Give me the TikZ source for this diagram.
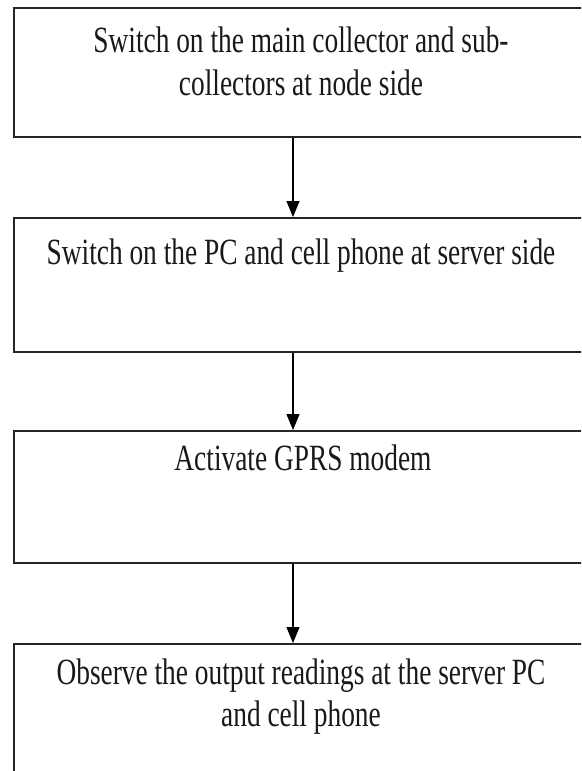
\documentclass[tikz,border=0pt]{standalone}
\usepackage{fontspec}
\setmainfont[FakeStretch=0.74]{Liberation Serif}
\usetikzlibrary{arrows.meta}
\begin{document}
\begin{tikzpicture}[x=1pt,y=-1pt,
  box/.style={draw=black!85,line width=1.6pt,rectangle,inner sep=0pt,anchor=north west},
  txt/.style={anchor=base,inner sep=0pt,font=\fontsize{37}{43}\selectfont,align=center,text=black!90},
  arr/.style={draw=black,line width=1.1pt,-{Triangle[width=13pt,length=16pt]}}]
\useasboundingbox (0,0) rectangle (581,771);
\clip (0,0) rectangle (581,771);
\fill[white] (0,0) rectangle (581,771);
\node[box,minimum width=580pt,minimum height=129pt] (b1) at (13,7) {};
\node[box,minimum width=580pt,minimum height=134pt] (b2) at (13,217) {};
\node[box,minimum width=580pt,minimum height=132pt] (b3) at (13,430) {};
\node[box,minimum width=580pt,minimum height=140pt] (b4) at (13,643) {};
\node[txt] (t1a) at (301,52) {Switch on the main collector and sub-};
\node[txt] (t1b) at (301,95) {collectors at node side};
\node[txt] (t2) at (301,264) {Switch on the PC and cell phone at server side};
\node[txt] (t3) at (303,470) {Activate GPRS modem};
\node[txt] (t4a) at (301,684) {Observe the output readings at the server PC};
\node[txt] (t4b) at (301,726) {and cell phone};
\coordinate (ax) at (293,0);
\draw[arr] (b1.south -| ax) -- (b2.north -| ax);
\draw[arr] (b2.south -| ax) -- (b3.north -| ax);
\draw[arr] (b3.south -| ax) -- (b4.north -| ax);
\end{tikzpicture}
\end{document}
